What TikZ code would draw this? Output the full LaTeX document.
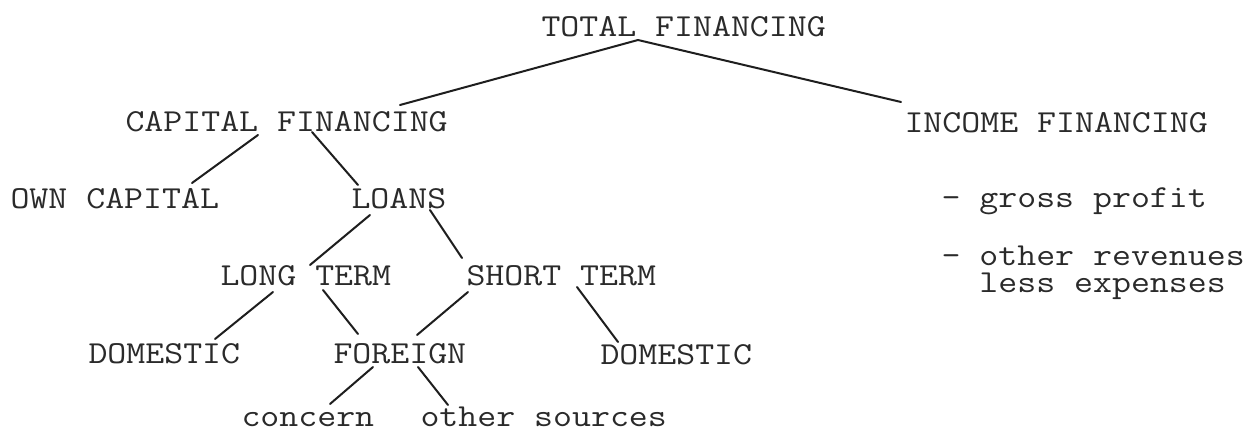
\documentclass[tikz,border=0pt]{standalone}
\usepackage{fontspec}
\usepackage{graphicx}
\definecolor{ink}{HTML}{2A2A2A}
\definecolor{pen}{HTML}{1E1E1E}
\newcommand{\twfont}{\ttfamily\fontsize{36.8}{27}\selectfont}
\newcommand{\sq}[1]{\scalebox{1}[0.87]{#1}}
\tikzset{
  lbl/.style={inner sep=0pt, outer sep=0pt, anchor=base west, font=\twfont, text=ink},
  conn/.style={draw=pen, line width=2pt, line cap=round}
}
\begin{document}
\begin{tikzpicture}[x=1pt,y=-1pt]
\fill[white] (0,0) rectangle (1249,431);
\useasboundingbox (0,0) rectangle (1249,431);

\node[lbl] (total) at (541.5,36) {\sq{TOTAL FINANCING}};
\node[lbl] (cap)   at (125.5,131) {\sq{CAPITAL FINANCING}};
\node[lbl] (inc)   at (904.5,132) {\sq{INCOME FINANCING}};
\node[lbl] (own)   at (10.5,208) {\sq{OWN CAPITAL}};
\node[lbl] (loans) at (351.5,208) {\sq{LOANS}};
\node[lbl] (gp)    at (941.5,207) {\sq{- gross profit}};
\node[lbl, align=left] (orv) at (941.5,292) {\sq{- other revenues}\\\sq{\phantom{xx}less expenses}};
\node[lbl] (lt)    at (220.5,285) {\sq{LONG TERM}};
\node[lbl] (st)    at (466.5,285) {\sq{SHORT TERM}};
\node[lbl] (dom1)  at (88.5,363) {\sq{DOMESTIC}};
\node[lbl] (for)   at (333.5,363) {\sq{FOREIGN}};
\node[lbl] (dom2)  at (600.5,364) {\sq{DOMESTIC}};
\node[lbl] (con)   at (241.5,426) {\sq{concern}};
\node[lbl] (oth)   at (420.5,426) {\sq{other sources}};

\draw[conn] ([shift={(96.5,4)}]total.base west) -- ([shift={(274.5,-26)}]cap.base west);
\draw[conn] ([shift={(96.5,4)}]total.base west) -- ([shift={(-3.5,-30)}]inc.base west);
\draw[conn] ([shift={(132.5,4)}]cap.base west) -- ([shift={(181.5,-25)}]own.base west);
\draw[conn] ([shift={(186.5,1)}]cap.base west) -- ([shift={(6.5,-23)}]loans.base west);
\draw[conn] ([shift={(18.5,7)}]loans.base west) -- ([shift={(89.5,-20)}]lt.base west);
\draw[conn] ([shift={(78.5,2)}]loans.base west) -- ([shift={(-4.5,-27)}]st.base west);
\draw[conn] ([shift={(52.5,7)}]lt.base west) -- ([shift={(126.5,-24)}]dom1.base west);
\draw[conn] ([shift={(102.5,5)}]lt.base west) -- ([shift={(24.5,-29)}]for.base west);
\draw[conn] ([shift={(1.5,7)}]st.base west) -- ([shift={(83.5,-28)}]for.base west);
\draw[conn] ([shift={(110.5,2)}]st.base west) -- ([shift={(17.5,-22)}]dom2.base west);
\draw[conn] ([shift={(39.5,4)}]for.base west) -- ([shift={(88.5,-22)}]con.base west);
\draw[conn] ([shift={(84.5,4)}]for.base west) -- ([shift={(27.5,-21)}]oth.base west);
\end{tikzpicture}
\end{document}
